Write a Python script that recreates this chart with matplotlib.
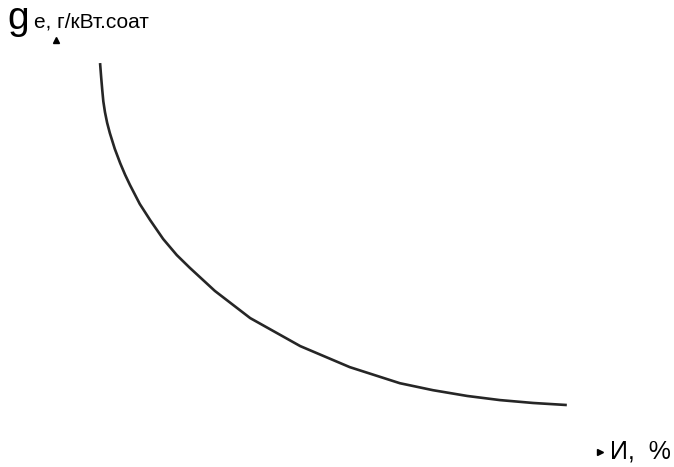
import matplotlib
matplotlib.use("Agg")
from matplotlib import pyplot as plt

# specific fuel consumption g_e versus И, % (schematic, relative units)
wear_pct = [8.1, 8.3, 8.5, 8.7, 9.0, 9.4, 9.9, 10.8, 11.8, 12.7, 13.6, 15.4,
            17.3, 19.7, 22.2, 24.6, 29.2, 35.7, 44.9, 54.0, 63.2, 69.3,
            75.6, 81.6, 87.7, 93.9]
fuel_ge = [94.4, 91.0, 87.9, 85.1, 82.5, 79.9, 77.4, 73.6, 70.1, 67.3, 64.8,
           60.2, 56.3, 51.7, 47.8, 44.7, 39.1, 32.5, 25.7, 20.6, 16.7, 15.0,
           13.6, 12.6, 11.9, 11.4]

y_label_main = "g"
y_label_rest = "e, г/кВт.соат"
x_label = "И,  %"

W, H = 674, 467
fig = plt.figure(figsize=(W / 100, H / 100), dpi=100)
plt.rcParams["font.family"] = ["Liberation Sans", "DejaVu Sans"]

# axes box: origin at the arrow tips (56, 452) and (600, 40) in pixels
ax = fig.add_axes([56 / W, 1 - 452 / H, 544 / W, 412 / H])
ax.set_xlim(0, 100)
ax.set_ylim(0, 100)
ax.axis("off")

ax.plot(wear_pct, fuel_ge, color="#262626", linewidth=1.9,
        solid_capstyle="butt", solid_joinstyle="round")

# tiny arrow heads at the end of the (invisible) axes
ax.plot([0], [100], marker="^", color="black", markersize=4, clip_on=False)
ax.plot([100], [0], marker=">", color="black", markersize=4, clip_on=False)

fig.text(7 / W, 1 - 29 / H, y_label_main, fontsize=28, va="baseline",
         ha="left", color="black")
fig.text(34 / W, 1 - 28 / H, y_label_rest, fontsize=15, va="baseline",
         ha="left", color="black")
fig.text(610 / W, 1 - 458 / H, x_label, fontsize=18, va="baseline",
         ha="left", color="black")

fig.savefig("out.png", dpi=100, facecolor="white")
